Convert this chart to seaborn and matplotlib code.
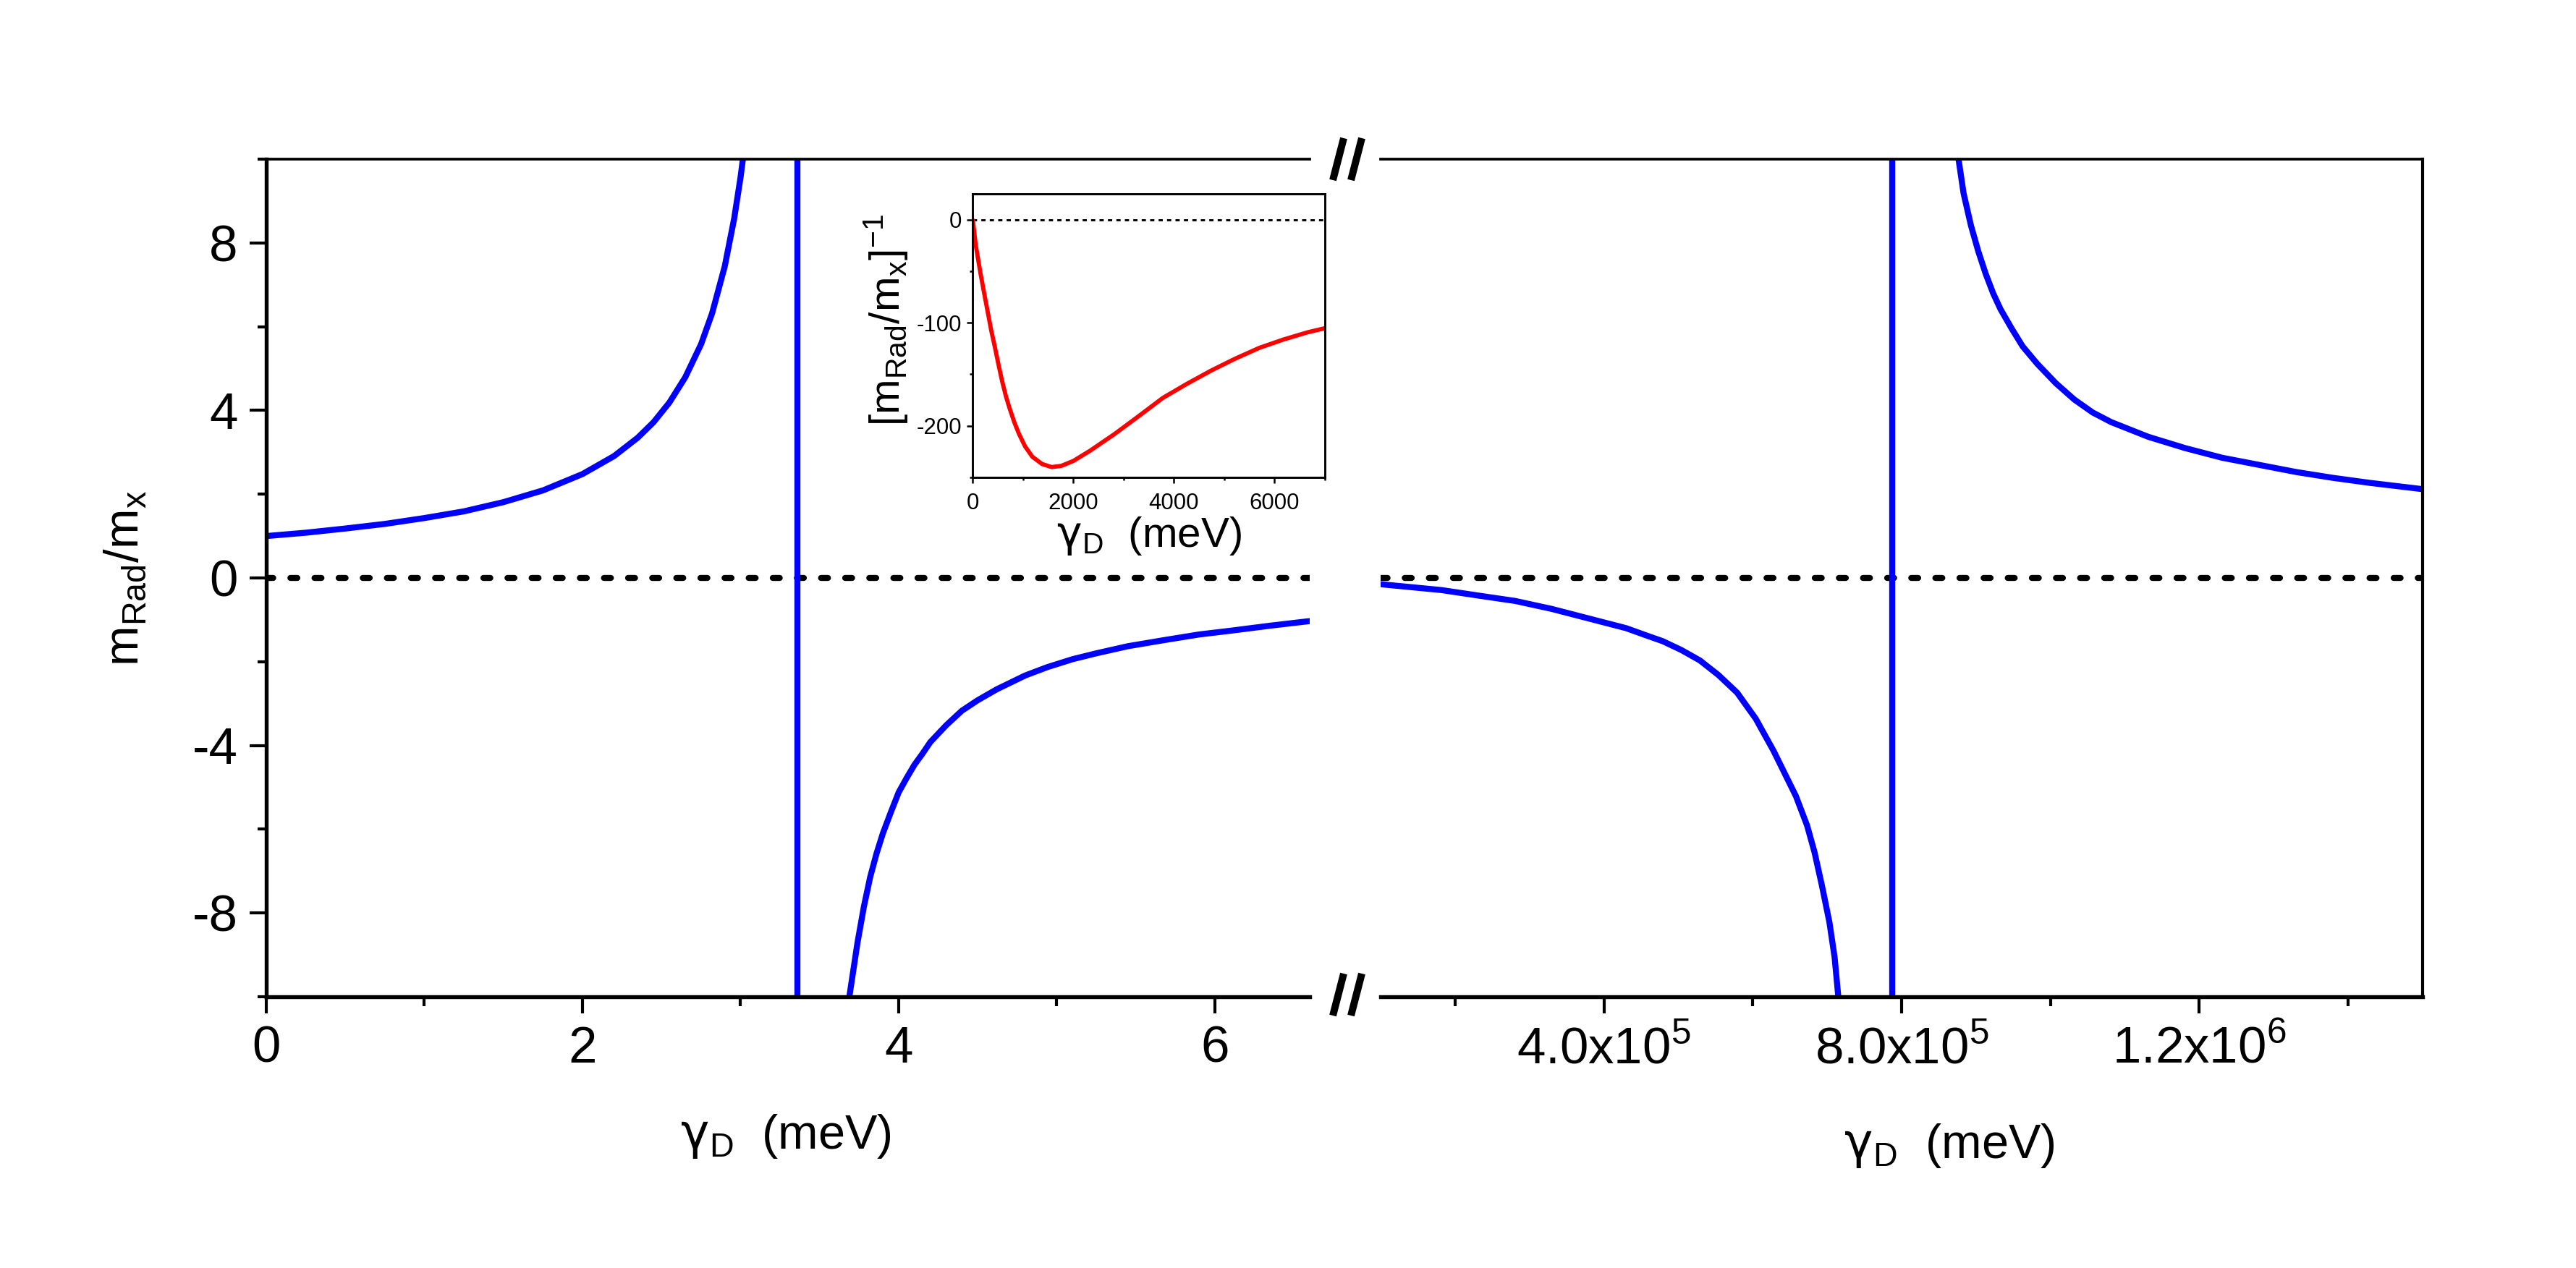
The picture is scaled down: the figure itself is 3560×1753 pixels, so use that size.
import matplotlib
matplotlib.use('Agg')
import matplotlib.pyplot as plt
import seaborn as sns
from matplotlib.lines import Line2D

# values
left_upper_x = [0.0, 0.25, 0.5, 0.75, 1.0, 1.25, 1.5, 1.75, 2.0, 2.2, 2.35, 2.45, 2.55, 2.65, 2.75, 2.82, 2.9, 2.96, 3.0, 3.025]
left_upper_y = [1.00, 1.08, 1.18, 1.29, 1.43, 1.59, 1.81, 2.09, 2.48, 2.91, 3.35, 3.72, 4.19, 4.79, 5.58, 6.32, 7.44, 8.59, 9.57, 10.3]
left_lower_x = [3.68, 3.70, 3.74, 3.78, 3.82, 3.86, 3.90, 3.95, 4.0, 4.05, 4.1, 4.15, 4.2, 4.3, 4.4, 4.5, 4.62,
                4.8, 4.94, 5.1, 5.25, 5.45, 5.67, 5.9, 6.1, 6.35, 6.6]
left_lower_y = [-10.2, -9.7, -8.7, -7.85, -7.14, -6.58, -6.1, -5.6, -5.12, -4.78, -4.46, -4.2, -3.92, -3.52, -3.17, -2.92, -2.66,
                -2.33, -2.13, -1.94, -1.8, -1.63, -1.49, -1.35, -1.26, -1.14, -1.03]
left_pole = 3.36

right_lower_x = [1.0e5, 1.82e5, 2.31e5, 2.81e5, 3.30e5, 3.80e5, 4.30e5, 4.55e5, 4.79e5, 5.04e5, 5.29e5, 5.54e5,
                 5.79e5, 6.04e5, 6.28e5, 6.43e5, 6.58e5, 6.73e5, 6.83e5, 6.93e5, 7.03e5, 7.10e5, 7.16e5]
right_lower_y = [-0.15, -0.29, -0.42, -0.55, -0.74, -0.97, -1.20, -1.36, -1.51, -1.72, -1.97, -2.32,
                 -2.74, -3.36, -4.13, -4.67, -5.21, -5.91, -6.55, -7.35, -8.22, -9.06, -10.2]
right_upper_x = [8.74e5, 8.832e5, 8.931e5, 9.03e5, 9.13e5, 9.229e5, 9.328e5, 9.477e5, 9.626e5, 9.824e5, 1.0072e6,
                 1.032e6, 1.0568e6, 1.0817e6, 1.1314e6, 1.181e6, 1.2306e6, 1.2802e6, 1.3298e6, 1.3795e6, 1.4291e6, 1.5e6]
right_upper_y = [10.3, 9.19, 8.42, 7.80, 7.26, 6.80, 6.42, 5.96, 5.53, 5.11, 4.65,
                 4.26, 3.95, 3.72, 3.37, 3.10, 2.87, 2.70, 2.53, 2.39, 2.27, 2.12]
right_pole = 7.87e5

inset_x = [0, 14, 62, 110, 158, 230, 302, 374, 446, 518, 590, 662, 734, 830, 925, 1045, 1189, 1381, 1572, 1764,
           2004, 2339, 2819, 3298, 3778, 4257, 4736, 5216, 5695, 6175, 6654, 7000]
inset_y = [0, -3.5, -24, -38, -52, -71, -89.5, -108, -124, -141, -157, -171, -182.6, -196.5, -208, -220, -230, -237, -240, -238.8,
           -234, -224, -208, -190.7, -173, -159.3, -146.5, -134.9, -124.4, -116.3, -109.3, -105.3]

right_ticks = [4.0e5, 8.0e5, 1.2e6]
right_ticklabels = ['4.0x10$^\\mathregular{5}$', '8.0x10$^\\mathregular{5}$', '1.2x10$^\\mathregular{6}$']
gamma_label = '$\\mathrm{\\gamma}_\\mathregular{D}$  (meV)'

sns.set_style('ticks', {'axes.edgecolor': 'black', 'xtick.color': 'black', 'ytick.color': 'black',
                        'text.color': 'black', 'axes.labelcolor': 'black'})
plt.rcParams['font.family'] = ['Liberation Sans', 'DejaVu Sans']
plt.rcParams['axes.unicode_minus'] = False
plt.rcParams['mathtext.fontset'] = 'dejavusans'

W, H = 3561, 1753
fig = plt.figure(figsize=(W / 300, H / 300), dpi=300)


def px_rect(x0, y0, x1, y1):
    return [x0 / W, 1 - y1 / H, (x1 - x0) / W, (y1 - y0) / H]


ax1 = fig.add_axes(px_rect(368, 220, 1810, 1378))
ax2 = fig.add_axes(px_rect(1908, 220, 3348, 1378))
axin = fig.add_axes(px_rect(1344, 268, 1831, 660))

blue = '#0000ff'
zero_style = dict(color='black', lw=2.0, linestyle=(0, (1.15, 2.85)), dash_capstyle='round', zorder=1)

# left panel
ax1.axhline(0, **zero_style)
sns.lineplot(x=left_upper_x, y=left_upper_y, ax=ax1, color=blue, lw=2.0, sort=False, estimator=None)
sns.lineplot(x=left_lower_x, y=left_lower_y, ax=ax1, color=blue, lw=2.0, sort=False, estimator=None)
ax1.axvline(left_pole, color=blue, lw=2.0)
ax1.set_xlim(0, 6.6)
ax1.set_ylim(-10, 10)
ax1.set_xticks([0, 2, 4, 6])
ax1.set_xticks([1, 3, 5], minor=True)
ax1.set_yticks([-8, -4, 0, 4, 8])
ax1.set_yticks([-10, -6, -2, 2, 6, 10], minor=True)
ax1.spines['right'].set_visible(False)
ax1.spines['left'].set_linewidth(1.3)
ax1.spines['bottom'].set_linewidth(1.3)
ax1.spines['top'].set_linewidth(0.9)
ax1.tick_params(which='both', direction='out', top=False, right=False, width=1.0, labelsize=17)
ax1.tick_params(which='major', length=5.5, pad=4)
ax1.tick_params(which='minor', length=3.0)
ax1.set_xlabel(gamma_label, fontsize=16)
ax1.set_ylabel('m$_\\mathregular{Rad}$/m$_\\mathregular{x}$', fontsize=16)
ax1.xaxis.set_label_coords(0.498, -0.138)
ax1.yaxis.set_label_coords(-0.113, 0.5)

# right panel
ax2.axhline(0, **zero_style)
sns.lineplot(x=right_lower_x, y=right_lower_y, ax=ax2, color=blue, lw=2.0, sort=False, estimator=None)
sns.lineplot(x=right_upper_x, y=right_upper_y, ax=ax2, color=blue, lw=2.0, sort=False, estimator=None)
ax2.axvline(right_pole, color=blue, lw=2.0)
ax2.set_xlim(1.0e5, 1.5e6)
ax2.set_ylim(-10, 10)
ax2.set_xticks(right_ticks)
ax2.set_xticklabels(right_ticklabels)
ax2.set_xticks([2e5, 6e5, 1.0e6, 1.4e6], minor=True)
ax2.spines['left'].set_visible(False)
ax2.spines['bottom'].set_linewidth(1.3)
ax2.spines['top'].set_linewidth(0.9)
ax2.spines['right'].set_linewidth(1.0)
ax2.tick_params(axis='y', which='both', left=False, right=False, labelleft=False)
ax2.tick_params(axis='x', which='both', direction='out', top=False, width=1.0, labelsize=17)
ax2.tick_params(axis='x', which='major', length=5.5, pad=4)
ax2.tick_params(axis='x', which='minor', length=3.0)
ax2.set_xlabel(gamma_label, fontsize=16)
ax2.xaxis.set_label_coords(0.546, -0.149)

# inset
axin.axhline(0, color='black', lw=0.7, linestyle=(0, (2, 2)), zorder=1)
sns.lineplot(x=inset_x, y=inset_y, ax=axin, color='#ff0000', lw=1.4, sort=False, estimator=None)
axin.set_xlim(0, 7000)
axin.set_ylim(-250, 25)
axin.set_xticks([0, 2000, 4000, 6000])
axin.set_xticks([1000, 3000, 5000, 7000], minor=True)
axin.set_yticks([-200, -100, 0])
axin.set_yticks([-250, -150, -50], minor=True)
for s in axin.spines.values():
    s.set_linewidth(0.7)
axin.tick_params(which='both', direction='out', width=0.6, labelsize=7.5, top=False, right=False)
axin.tick_params(which='major', length=2.0)
axin.tick_params(which='minor', length=1.0)
axin.tick_params(axis='y', pad=1.5)
axin.tick_params(axis='x', pad=3)
axin.set_xlabel(gamma_label, fontsize=14)
axin.set_ylabel('[m$_\\mathregular{Rad}$/m$_\\mathregular{x}$]$^\\mathregular{-1}$', fontsize=14)
axin.xaxis.set_label_coords(0.5, -0.133)
axin.yaxis.set_label_coords(-0.176, 0.554)

# axis break marks
for yc in (220, 1375):
    for xa in (1842, 1867):
        fig.add_artist(Line2D([xa / W, (xa + 15) / W], [1 - (yc + 29) / H, 1 - (yc - 29) / H],
                              transform=fig.transFigure, color='black', lw=2.4, solid_capstyle='butt'))

fig.savefig('out.png', dpi=300)
